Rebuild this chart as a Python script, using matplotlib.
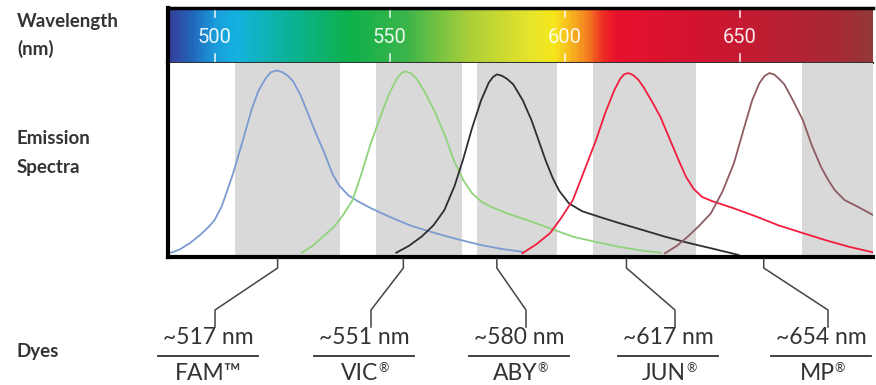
import numpy as np
import matplotlib

matplotlib.use("Agg")
import matplotlib.pyplot as plt
from matplotlib.colors import LinearSegmentedColormap

plt.rcParams["font.family"] = ["Lato", "DejaVu Sans"]

# wavelength range shown (nm)
WL_MIN, WL_MAX = 486.7, 688.0
WL_TICKS = [500, 550, 600, 650]

# grey detection bands (nm)
BANDS = [(505.9, 535.9), (546.1, 570.7), (575.0, 597.9), (608.1, 637.6), (667.6, 688.0)]

# emission spectra (nm, relative intensity)
FAM_WL = [487.6, 490, 493, 496, 498.5, 500, 502, 503.5, 505.3, 508, 510.5, 512.5, 514.5, 516,
          517.7, 519.5, 521, 522.3, 524.5, 526.3, 529, 531.4, 533.6, 535.5, 538.1, 541, 544.8,
          549.9, 556, 563, 569, 576.1, 582, 587.9]
FAM_I = [0.023, 0.04, 0.075, 0.12, 0.165, 0.198, 0.27, 0.35, 0.449, 0.62, 0.786, 0.89, 0.955,
         0.99, 1.0, 0.99, 0.97, 0.945, 0.87, 0.786, 0.66, 0.556, 0.448, 0.385, 0.332, 0.298,
         0.26, 0.216, 0.168, 0.128, 0.097, 0.064, 0.043, 0.028]
VIC_WL = [524.9, 528, 531, 534.1, 536.5, 539.4, 542, 544.6, 547.5, 549.9, 552, 553.3, 554.5,
          556, 557.7, 560, 563, 566, 568.2, 571, 573.5, 576.2, 579, 584.1, 589.2, 596, 602.3,
          609, 615.4, 621, 627.3]
VIC_I = [0.023, 0.06, 0.11, 0.162, 0.22, 0.305, 0.45, 0.61, 0.76, 0.877, 0.955, 0.985, 0.995,
         0.985, 0.955, 0.885, 0.775, 0.64, 0.524, 0.412, 0.342, 0.296, 0.268, 0.23, 0.198, 0.152,
         0.109, 0.08, 0.055, 0.037, 0.023]
ABY_WL = [551.9, 555.5, 559.1, 562.5, 565.6, 568.5, 570.9, 573.5, 576.1, 578.3, 579.5, 580.6,
          582, 583.5, 585.3, 588, 590.5, 594.5, 596.6, 598.4, 601.2, 605, 610.4, 615.5, 622,
          628.6, 635, 641.7, 649.6]
ABY_I = [0.023, 0.06, 0.109, 0.17, 0.251, 0.38, 0.519, 0.69, 0.84, 0.935, 0.965, 0.979,
         0.972, 0.955, 0.925, 0.84, 0.733, 0.519, 0.421, 0.355, 0.287, 0.245, 0.212, 0.182,
         0.146, 0.109, 0.077, 0.047, 0.011]
JUN_WL = [587.9, 592, 595.8, 599, 602.3, 605.5, 608.9, 611.5, 614.1, 615.8, 617, 618.2, 619.5,
          621, 622.5, 625, 627.3, 630, 632.5, 634.6, 636.8, 639.2, 642, 648.4, 654.8, 661, 668,
          674.5, 681.1, 688]
JUN_I = [0.020, 0.07, 0.128, 0.21, 0.305, 0.46, 0.626, 0.77, 0.893, 0.955, 0.98, 0.986,
         0.975, 0.95, 0.91, 0.83, 0.751, 0.63, 0.519, 0.43, 0.365, 0.322, 0.3, 0.26, 0.216, 0.17,
         0.128, 0.09, 0.055, 0.025]
MP_WL = [628.6, 632, 635.1, 638.5, 641.7, 645, 648.3, 651, 653.5, 655.5, 657, 658.4, 659.8,
         661.2, 662.7, 665, 668, 670.5, 673.2, 675.3, 677.1, 679.9, 683.7, 688]
MP_I = [0.020, 0.06, 0.109, 0.17, 0.234, 0.35, 0.503, 0.68, 0.84, 0.93, 0.97, 0.986, 0.978,
        0.955, 0.925, 0.845, 0.733, 0.6, 0.481, 0.41, 0.358, 0.305, 0.269, 0.225]

SPECTRA = [(FAM_WL, FAM_I), (VIC_WL, VIC_I), (ABY_WL, ABY_I), (JUN_WL, JUN_I), (MP_WL, MP_I)]
COLORS = ["#7b9bd1", "#8fd47a", "#2e2e2e", "#f21d3d", "#8e5c60"]

# dye labels
PEAKS = ["~517 nm", "~551 nm", "~580 nm", "~617 nm", "~654 nm"]
DYE_NAMES = ["FAM\u2122", "VIC", "ABY", "JUN", "MP"]
DYE_MARKS = ["", "\u00ae", "\u00ae", "\u00ae", "\u00ae"]
ATTACH_WL = [518.0, 553.9, 580.6, 617.6, 656.8]   # where the leader leaves the axis
LABEL_X = [208, 364, 519, 668, 821]                # label centres, px

# visible spectrum colour stops for the top bar
SPEC_STOPS = [
    (486.7, "#353e9a"), (493, "#2266ba"), (500, "#1a9edc"), (506, "#14b3df"),
    (520, "#0bb39c"), (538, "#0db14c"), (555, "#3db54a"), (572, "#a8cf3a"),
    (590, "#e6e42c"), (597, "#f6e71b"), (602, "#f8b41f"), (607, "#f47a20"),
    (611, "#ef2c25"), (615, "#e8112d"), (640, "#d11530"), (660, "#bb1f33"),
    (678, "#a92935"), (688, "#94383a"),
]

W, H = 876, 385
fig = plt.figure(figsize=(W / 100, H / 100), dpi=100)

L, R, T_BAR, B_BAR, B = 168, 873, 8, 63, 257


def fig_rect(x0, y0, x1, y1):
    return [x0 / W, 1 - y1 / H, (x1 - x0) / W, (y1 - y0) / H]


# spectrum bar
bar = fig.add_axes(fig_rect(L, T_BAR, R, B_BAR))
pos = [(w - WL_MIN) / (WL_MAX - WL_MIN) for w, _ in SPEC_STOPS]
cmap = LinearSegmentedColormap.from_list("vis", list(zip(pos, [c for _, c in SPEC_STOPS])))
grad = np.linspace(0, 1, 600)[None, :]
bar.imshow(grad, cmap=cmap, aspect="auto", extent=[WL_MIN, WL_MAX, 0, 1])
bar.set_xlim(WL_MIN, WL_MAX)
bar.set_ylim(0, 1)
bar.set_xticks([])
bar.set_yticks([])
bar.spines["right"].set_visible(False)
bar.spines["top"].set_linewidth(2.5)
bar.spines["left"].set_linewidth(3)
bar.spines["bottom"].set_linewidth(1.5)
bar.spines["bottom"].set_color("#333333")
for t in WL_TICKS:
    bar.plot([t, t], [0.83, 1.0], color="white", lw=1.2, alpha=0.85)
    bar.plot([t, t], [0.0, 0.17], color="white", lw=1.2, alpha=0.85)
    bar.text(t, 0.47, str(t), color="white", fontsize=14.5, ha="center", va="center",
             family=["Roboto", "DejaVu Sans"], alpha=0.9)

# emission spectra
ax = fig.add_axes(fig_rect(L, B_BAR, R, B))
for lo, hi in BANDS:
    ax.axvspan(lo, hi, color="#d9d9d9", lw=0)
for (wl, inten), c in zip(SPECTRA, COLORS):
    ax.plot(wl, inten, color=c, lw=1.3, solid_joinstyle="round")
ax.set_xlim(WL_MIN, WL_MAX)
ax.set_ylim(0, 1.04)
ax.set_xticks([])
ax.set_yticks([])
ax.spines["top"].set_visible(False)
ax.spines["right"].set_visible(False)
ax.spines["left"].set_linewidth(3)
ax.spines["bottom"].set_linewidth(3)

# overlay in pixel coordinates for labels and leaders
ov = fig.add_axes([0, 0, 1, 1], facecolor="none")
ov.set_xlim(0, W)
ov.set_ylim(H, 0)
ov.axis("off")

dark = "#333333"
for txt, y in [("Wavelength", 22), ("(nm)", 49), ("Emission", 138), ("Spectra", 168),
               ("Dyes", 352)]:
    ov.text(17, y, txt, fontsize=13.5, fontweight="bold", color=dark, va="center")

for wl, lx, peak, name, mark in zip(ATTACH_WL, LABEL_X, PEAKS, DYE_NAMES, DYE_MARKS):
    px = L + (wl - WL_MIN) / (WL_MAX - WL_MIN) * (R - L)
    ex = lx + 7
    ov.plot([px, px, ex, ex], [259, 268, 310, 327], color="#444444", lw=1.1)
    ov.text(lx, 337, peak, fontsize=16.5, color=dark, ha="center", va="center")
    ov.plot([lx - 50, lx + 50], [356, 356], color=dark, lw=1.3)
    nx = lx - 4 if mark else lx
    t = ov.text(nx, 373, name, fontsize=16.5, color=dark, ha="center", va="center")
    if mark:
        ov.annotate(mark, xy=(1, 0.75), xycoords=t, fontsize=9, color=dark,
                    ha="left", va="center")

fig.savefig("out.png", dpi=100)
